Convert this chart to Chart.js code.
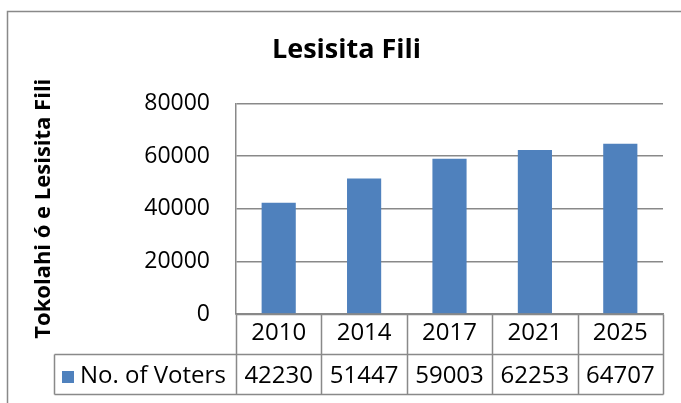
<!DOCTYPE html>
<html>
<head>
<meta charset="utf-8">
<script src="https://cdn.jsdelivr.net/npm/chart.js"></script>
<style>
  html, body { margin: 0; padding: 0; background: #fff; }
  #wrap { width: 681px; height: 403px; }
</style>
</head>
<body>
<div id="wrap"><canvas id="voters" width="681" height="403"></canvas></div>
<script>
// chart data
var years = ["2010", "2014", "2017", "2021", "2025"];
var voters = [42230, 51447, 59003, 62253, 64707];
var seriesName = "No. of Voters";
var chartTitle = "Lesisita Fili";
var yTitle = "Tokolahi ó e Lesisita Fili";
var yMin = 0, yMax = 80000, yStep = 20000;

var barColor = "#4F81BD";
var lineColor = "#898989";
var fontFamily = "'Open Sans', 'Noto Sans', sans-serif";

// draws the outer frame and the Excel-style data table under the plot
var dataTablePlugin = {
  id: 'dataTable',
  beforeDraw: function(chart) {
    var ctx = chart.ctx;
    ctx.save();
    ctx.strokeStyle = lineColor;
    ctx.lineWidth = 1.5;
    ctx.strokeRect(7.5, 11.5, 720, 440);
    ctx.restore();
  },
  afterDraw: function(chart) {
    var ctx = chart.ctx;
    var area = chart.chartArea;
    var n = years.length;
    var left = Math.round(area.left) + 0.5;
    var right = Math.round(area.right) + 0.5;
    var colW = (area.right - area.left) / n;
    var r1 = Math.round(area.bottom) + 0.5;
    var r2 = r1 + 40;
    var r3 = r2 + 40;
    var tableLeft = 54.5;

    ctx.save();
    ctx.strokeStyle = lineColor;
    ctx.lineWidth = 1.5;
    ctx.beginPath();
    ctx.moveTo(left, r1); ctx.lineTo(right, r1);
    ctx.moveTo(tableLeft, r2); ctx.lineTo(right, r2);
    ctx.moveTo(tableLeft, r3); ctx.lineTo(right, r3);
    ctx.moveTo(tableLeft, r2); ctx.lineTo(tableLeft, r3);
    for (var i = 0; i <= n; i++) {
      var x = Math.round(area.left + i * colW) + 0.5;
      ctx.moveTo(x, r1); ctx.lineTo(x, r3);
    }
    ctx.stroke();

    // legend key + series name
    var midY = (r2 + r3) / 2 + 2;
    ctx.fillStyle = barColor;
    ctx.fillRect(62, Math.round(midY - 6), 12, 12);
    ctx.fillStyle = "#000";
    ctx.font = "24px " + fontFamily;
    ctx.textBaseline = "middle";
    ctx.textAlign = "left";
    ctx.fillText(seriesName, 80, midY);

    // values row
    ctx.textAlign = "center";
    for (var j = 0; j < n; j++) {
      ctx.fillText(String(voters[j]), area.left + (j + 0.5) * colW, midY);
    }
    ctx.restore();
  }
};

var ctx = document.getElementById("voters");

var chartData = {
  labels: years,
  datasets: [{
    label: seriesName,
    data: voters,
    backgroundColor: barColor,
    borderColor: "transparent",
    categoryPercentage: 1.0,
    barPercentage: 0.4
  }]
};

var config = {
  type: 'bar',
  data: chartData,
  options: {
    responsive: false,
    animation: false,
    devicePixelRatio: 1,
    layout: { padding: { left: 30, right: 18, top: 0, bottom: 0 } },
    plugins: {
      legend: { display: false },
      tooltip: { enabled: false },
      title: {
        display: true,
        text: chartTitle,
        color: "#000",
        font: { family: fontFamily, size: 27, weight: 'bold' },
        padding: { top: 34, bottom: 37 }
      }
    },
    scales: {
      x: {
        grid: { display: false, drawTicks: false },
        border: { display: true, color: lineColor, width: 1.5 },
        ticks: { color: "#000", font: { family: fontFamily, size: 24 }, padding: 5, maxRotation: 0 },
        afterFit: function(scale) { scale.height = 89; }
      },
      y: {
        min: yMin,
        max: yMax,
        grid: { color: lineColor, lineWidth: 1.5, drawTicks: false },
        border: { display: true, color: lineColor, width: 1.5 },
        ticks: {
          stepSize: yStep,
          color: "#000",
          font: { family: fontFamily, size: 23 },
          padding: 26,
          callback: function(value) { return String(value); }
        },
        title: {
          display: true,
          text: yTitle,
          color: "#000",
          font: { family: fontFamily, size: 22, weight: 'bold' },
          padding: { top: 1, bottom: 0 }
        },
        afterFit: function(scale) { scale.width = 206; }
      }
    }
  },
  plugins: [dataTablePlugin]
};

var barChart = new Chart(ctx, config);
</script>
</body>
</html>
